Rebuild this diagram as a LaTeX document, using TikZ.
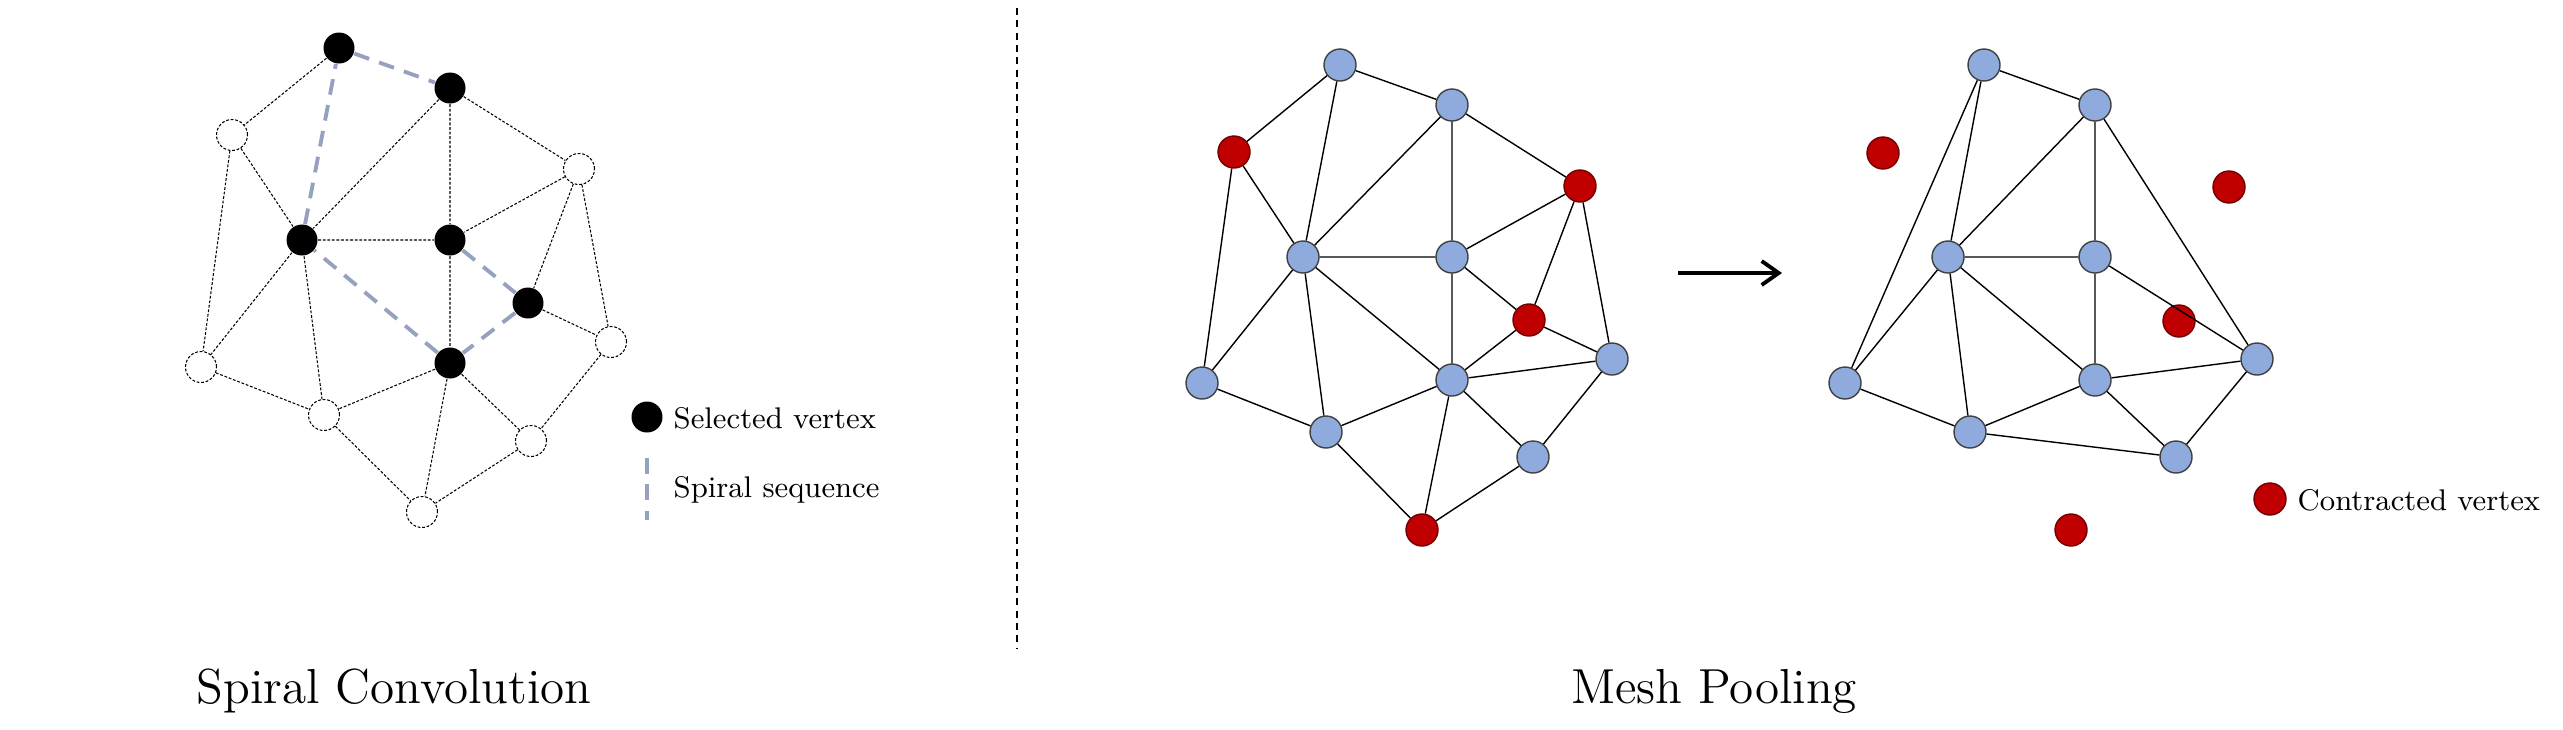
\documentclass[tikz,border=0pt]{standalone}
\usepackage{tikz}
\usetikzlibrary{arrows.meta}
\definecolor{vblue}{RGB}{143,170,220}
\definecolor{vred}{RGB}{192,0,0}
\definecolor{spiralc}{RGB}{150,161,192}

\begin{document}
\begin{tikzpicture}[
  sel/.style={circle, fill=black, inner sep=0pt, minimum size=0.31cm},
  unsel/.style={circle, draw=black, line width=0.3pt,
              dash pattern=on 0.8pt off 0.5pt, inner sep=0pt, minimum size=0.31cm},
  bvert/.style={circle, draw=black!75, line width=0.4pt, fill=vblue,
              inner sep=0pt, minimum size=0.32cm},
  rvert/.style={circle, draw=vred!60!black, line width=0.4pt, fill=vred,
              inner sep=0pt, minimum size=0.32cm},
  dedge/.style={line width=0.3pt, dash pattern=on 0.8pt off 0.5pt},
  medge/.style={line width=0.4pt},
  spir/.style={spiralc, line width=1.1pt, dash pattern=on 4.5pt off 3pt},
  lbl/.style={anchor=base west, inner sep=0pt, font=\fontsize{8.5}{10}\selectfont},
  ttl/.style={anchor=base, inner sep=0pt, font=\fontsize{14}{17}\selectfont},
  arr/.style={-{Straight Barb[length=1.7mm,width=2.4mm]}, line width=1.1pt}
]
\useasboundingbox (0,0) rectangle (25.63,7.29);

% ── LEFT: Spiral convolution ─────────────
\node[sel]   (v1)  at (3.39, 6.81) {};
\node[sel]   (v2)  at (4.50, 6.41) {};
\node[unsel] (v3)  at (2.32, 5.94) {};
\node[unsel] (v4)  at (5.79, 5.60) {};
\node[sel]   (v5)  at (3.02, 4.89) {};
\node[sel]   (v6)  at (4.50, 4.89) {};
\node[sel]   (v7)  at (5.28, 4.26) {};
\node[unsel] (v8)  at (6.11, 3.87) {};
\node[unsel] (v9)  at (2.01, 3.62) {};
\node[sel]   (v10) at (4.50, 3.66) {};
\node[unsel] (v11) at (3.24, 3.14) {};
\node[unsel] (v12) at (5.31, 2.88) {};
\node[unsel] (v13) at (4.22, 2.17) {};
\draw[dedge] (v1) -- (v3) (v2) -- (v5) (v2) -- (v6) (v2) -- (v4)
  (v3) -- (v5) (v3) -- (v9) (v4) -- (v6) (v4) -- (v7) (v4) -- (v8)
  (v5) -- (v6) (v5) -- (v9) (v5) -- (v11) (v6) -- (v10) (v7) -- (v8)
  (v8) -- (v12) (v9) -- (v11) (v10) -- (v11) (v10) -- (v13)
  (v10) -- (v12) (v11) -- (v13) (v12) -- (v13);
\draw[spir] (v6) -- (v7);
\draw[spir] (v7) -- (v10);
\draw[spir] (v10) -- (v5);
\draw[spir] (v5) -- (v1);
\draw[spir] (v1) -- (v2);

% legend
\node[sel] (lsel) at (6.47, 3.12) {};
\node[lbl] (tsel) at (6.73, 3.01) {Selected vertex};
\coordinate (lsp1) at (6.47, 2.71);
\coordinate (lsp2) at (6.47, 2.09);
\draw[spir] (lsp1) -- (lsp2);
\node[lbl] (tsp) at (6.73, 2.32) {Spiral sequence};
\node[ttl] (t1) at (3.94, 0.26) {Spiral Convolution};

% divider
\coordinate (dtop) at (10.17, 7.21);
\coordinate (dbot) at (10.17, 0.80);
\draw[line width=0.4pt, dash pattern=on 2pt off 1.5pt] (dtop) -- (dbot);

% ── RIGHT: Mesh pooling (before) ──────────
\node[bvert] (p1)  at (13.40, 6.64) {};
\node[bvert] (p2)  at (14.52, 6.24) {};
\node[rvert] (p3)  at (12.34, 5.77) {};
\node[rvert] (p4)  at (15.80, 5.43) {};
\node[bvert] (p5)  at (13.03, 4.72) {};
\node[bvert] (p6)  at (14.52, 4.72) {};
\node[rvert] (p7)  at (15.29, 4.09) {};
\node[bvert] (p8)  at (16.12, 3.70) {};
\node[bvert] (p9)  at (12.02, 3.46) {};
\node[bvert] (p10) at (14.52, 3.49) {};
\node[bvert] (p11) at (13.26, 2.97) {};
\node[bvert] (p12) at (15.33, 2.72) {};
\node[rvert] (p13) at (14.22, 1.99) {};
\draw[medge] (p1) -- (p3) (p1) -- (p2) (p1) -- (p5) (p2) -- (p5)
  (p2) -- (p6) (p2) -- (p4) (p3) -- (p5) (p3) -- (p9) (p5) -- (p6)
  (p5) -- (p9) (p5) -- (p11) (p5) -- (p10) (p6) -- (p10) (p6) -- (p7)
  (p6) -- (p4) (p4) -- (p7) (p4) -- (p8) (p7) -- (p8) (p7) -- (p10)
  (p10) -- (p8) (p8) -- (p12) (p9) -- (p11) (p11) -- (p10)
  (p11) -- (p13) (p10) -- (p13) (p10) -- (p12) (p12) -- (p13);

\coordinate (as) at (16.78, 4.56);
\coordinate (ae) at (17.82, 4.56);
\draw[arr] (as) -- (ae);

% ── RIGHT: Mesh pooling (after) ───────────
\node[bvert] (q1)  at (19.84, 6.64) {};
\node[bvert] (q2)  at (20.95, 6.24) {};
\node[rvert] (q3)  at (18.83, 5.76) {};
\node[rvert] (q4)  at (22.29, 5.42) {};
\node[bvert] (q5)  at (19.48, 4.72) {};
\node[bvert] (q6)  at (20.95, 4.72) {};
\node[rvert] (q7)  at (21.79, 4.08) {};
\node[bvert] (q8)  at (22.57, 3.70) {};
\node[bvert] (q9)  at (18.45, 3.46) {};
\node[bvert] (q10) at (20.95, 3.49) {};
\node[bvert] (q11) at (19.70, 2.97) {};
\node[bvert] (q12) at (21.76, 2.72) {};
\node[rvert] (q13) at (20.71, 1.99) {};
\draw[medge] (q1) -- (q2) (q1) -- (q5) (q1) -- (q9) (q2) -- (q5)
  (q2) -- (q6) (q2) -- (q8) (q5) -- (q6) (q5) -- (q9) (q5) -- (q11)
  (q5) -- (q10) (q6) -- (q10) (q6) -- (q8) (q8) -- (q10) (q8) -- (q12)
  (q9) -- (q11) (q10) -- (q11) (q10) -- (q12) (q11) -- (q12);

% legend
\node[rvert] (lred) at (22.70, 2.30) {};
\node[lbl] (tred) at (22.97, 2.19) {Contracted vertex};
\node[ttl] (t2) at (17.14, 0.26) {Mesh Pooling};
\end{tikzpicture}
\end{document}
